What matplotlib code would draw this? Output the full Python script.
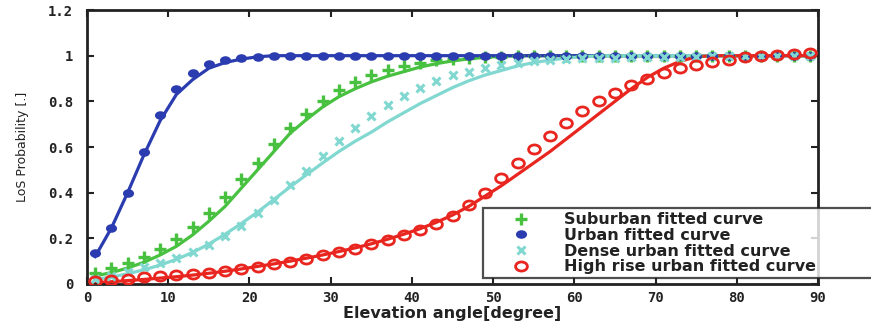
import matplotlib
matplotlib.use("Agg")
import matplotlib.pyplot as plt
from matplotlib.path import Path
from matplotlib.transforms import Affine2D
from matplotlib.lines import Line2D

# Elevation angles where the measured points sit (degrees)
angles = [1, 3, 5, 7, 9, 11, 13, 15, 17, 19, 21, 23, 25, 27, 29, 31, 33, 35, 37, 39, 41, 43, 45,
          47, 49, 51, 53, 55, 57, 59, 61, 63, 65, 67, 69, 71, 73, 75, 77, 79, 81, 83, 85, 87, 89]

# Measured LoS probability
suburban_pts = [0.047, 0.07, 0.09, 0.117, 0.152, 0.196, 0.249, 0.313, 0.383, 0.459, 0.53, 0.615,
                0.683, 0.746, 0.803, 0.848, 0.883, 0.914, 0.936, 0.953, 0.968, 0.98, 0.986, 0.99,
                0.993, 0.995, 0.997, 0.998, 0.999, 1.0, 1.0, 1.0, 1.0, 1.0, 1.0, 1.0, 1.0, 1.0,
                1.0, 1.0, 1.0, 1.0, 1.0, 1.0, 1.0]
urban_pts = [0.135, 0.245, 0.40, 0.58, 0.74, 0.855, 0.925, 0.962, 0.98, 0.99, 0.995, 0.998, 1.0,
             1.0, 1.0, 1.0, 1.0, 1.0, 1.0, 1.0, 1.0, 1.0, 1.0, 1.0, 1.0, 1.0, 1.0, 1.0, 1.0, 1.0,
             1.0, 1.0, 1.0, 1.0, 1.0, 1.0, 1.0, 1.0, 1.0, 1.0, 1.0, 1.0, 1.0, 1.0, 1.0]
dense_pts = [0.02, 0.035, 0.054, 0.076, 0.09, 0.114, 0.139, 0.171, 0.212, 0.254, 0.31, 0.368,
             0.432, 0.495, 0.561, 0.627, 0.683, 0.737, 0.782, 0.825, 0.858, 0.887, 0.915, 0.93,
             0.946, 0.96, 0.97, 0.978, 0.983, 0.986, 0.988, 0.99, 0.99, 0.992, 0.993, 0.994,
             0.995, 0.996, 0.997, 0.998, 0.999, 1.0, 1.0, 1.0, 1.0]
highrise_pts = [0.012, 0.018, 0.024, 0.029, 0.035, 0.039, 0.044, 0.05, 0.058, 0.064, 0.075, 0.086,
                0.095, 0.11, 0.125, 0.14, 0.155, 0.176, 0.193, 0.215, 0.237, 0.263, 0.298, 0.346,
                0.40, 0.463, 0.529, 0.592, 0.649, 0.705, 0.756, 0.80, 0.836, 0.873, 0.90, 0.924,
                0.946, 0.96, 0.972, 0.982, 0.993, 1.0, 1.005, 1.008, 1.012]

# Fitted curves, read at the same angles
suburban_fit = [0.035, 0.05, 0.07, 0.095, 0.127, 0.165, 0.215, 0.275, 0.34, 0.42, 0.50, 0.58,
                0.66, 0.72, 0.775, 0.82, 0.855, 0.885, 0.91, 0.93, 0.95, 0.965, 0.977, 0.986,
                0.993, 0.997, 1.0, 1.0, 1.0, 1.0, 1.0, 1.0, 1.0, 1.0, 1.0, 1.0, 1.0, 1.0, 1.0,
                1.0, 1.0, 1.0, 1.0, 1.0, 1.0]
urban_fit = [0.12, 0.245, 0.40, 0.565, 0.715, 0.83, 0.895, 0.945, 0.97, 0.985, 0.995, 1.0, 1.0,
             1.0, 1.0, 1.0, 1.0, 1.0, 1.0, 1.0, 1.0, 1.0, 1.0, 1.0, 1.0, 1.0, 1.0, 1.0, 1.0, 1.0,
             1.0, 1.0, 1.0, 1.0, 1.0, 1.0, 1.0, 1.0, 1.0, 1.0, 1.0, 1.0, 1.0, 1.0, 1.0]
dense_fit = [0.02, 0.03, 0.045, 0.062, 0.083, 0.108, 0.138, 0.175, 0.218, 0.265, 0.315, 0.37,
             0.425, 0.478, 0.53, 0.58, 0.625, 0.665, 0.71, 0.75, 0.79, 0.825, 0.86, 0.89, 0.915,
             0.935, 0.955, 0.97, 0.98, 0.99, 0.995, 1.0, 1.0, 1.0, 1.0, 1.0, 1.0, 1.0, 1.0, 1.0,
             1.0, 1.0, 1.0, 1.0, 1.0]
highrise_fit = [0.006, 0.01, 0.015, 0.02, 0.026, 0.032, 0.039, 0.047, 0.056, 0.066, 0.077, 0.088,
                0.10, 0.113, 0.127, 0.142, 0.158, 0.176, 0.196, 0.218, 0.242, 0.27, 0.302, 0.34,
                0.385, 0.43, 0.48, 0.53, 0.58, 0.635, 0.69, 0.745, 0.80, 0.855, 0.905, 0.945,
                0.975, 0.995, 1.0, 1.0, 1.0, 1.0, 1.0, 1.0, 1.0]

labels = ["Suburban fitted curve", "Urban fitted curve",
          "Dense urban fitted curve", "High rise urban fitted curve"]

x_ticks = [0, 10, 20, 30, 40, 50, 60, 70, 80, 90]
y_ticks = [0, 0.2, 0.4, 0.6, 0.8, 1.0, 1.2]
y_tick_labels = ["0", "0.2", "0.4", "0.6", "0.8", "1", "1.2"]

GREEN = "#48c040"
BLUE = "#2a3caf"
CYAN = "#80d8d0"
RED = "#e8251e"

# slightly wide ellipse marker (the original picture is stretched horizontally)
ellipse = Path.unit_circle().transformed(Affine2D().scale(1.3, 1.0))

fig = plt.figure(figsize=(8.71, 3.27), dpi=100)
ax = fig.add_axes([0.0999, 0.1315, 0.8393, 0.8379])

series = [
    (suburban_fit, suburban_pts, GREEN, dict(marker="+", ms=8, mew=2.4)),
    (urban_fit, urban_pts, BLUE, dict(marker=ellipse, ms=8, mew=0)),
    (dense_fit, dense_pts, CYAN, dict(marker="x", ms=5.5, mew=2.2)),
    (highrise_fit, highrise_pts, RED, dict(marker=ellipse, ms=8.5, mew=2, mfc="none")),
]

handles = []
for fit, pts, color, mk in series:
    ax.plot(angles, fit, color=color, lw=2.3, zorder=2)
    ax.plot(angles, pts, ls="none", color=color, zorder=3, **mk)
    handles.append(Line2D([], [], ls="none", color=color, **mk))

ax.set_xlim(0, 90)
ax.set_ylim(0, 1.2)
ax.set_xticks(x_ticks)
ax.set_yticks(y_ticks)
ax.set_yticklabels(y_tick_labels)

tick_font = dict(family="DejaVu Sans Mono", weight="bold", size=10)
for lab in ax.get_xticklabels() + ax.get_yticklabels():
    lab.set_fontproperties(matplotlib.font_manager.FontProperties(**tick_font))

ax.tick_params(direction="in", top=True, right=True, length=5, width=1.5, colors="#222222")
ax.tick_params(axis="y", pad=10)
ax.tick_params(axis="x", pad=5)
for sp in ax.spines.values():
    sp.set_linewidth(2)
    sp.set_color("#222222")

ax.set_xlabel("Elevation angle[degree]", fontsize=11.5, fontweight="bold",
              color="#222222", labelpad=1)
ax.set_ylabel("LoS Probability [.]", fontsize=9,
              family=["Liberation Sans Narrow", "DejaVu Sans"], color="#222222", labelpad=14)

leg = ax.legend(handles, labels, loc="upper left",
                bbox_to_anchor=(0.5417, 0.0255, 0.55, 0.2515), mode="expand",
                prop=dict(weight="bold", size=11.5), frameon=True, fancybox=False,
                edgecolor="#222222", borderpad=0.25, labelspacing=0.05,
                handlelength=4.3, handletextpad=0.55, numpoints=1, borderaxespad=0)
leg.get_frame().set_linewidth(1.6)
leg.set_zorder(5)
for t in leg.get_texts():
    t.set_color("#222222")

fig.savefig("out.png", dpi=100)
